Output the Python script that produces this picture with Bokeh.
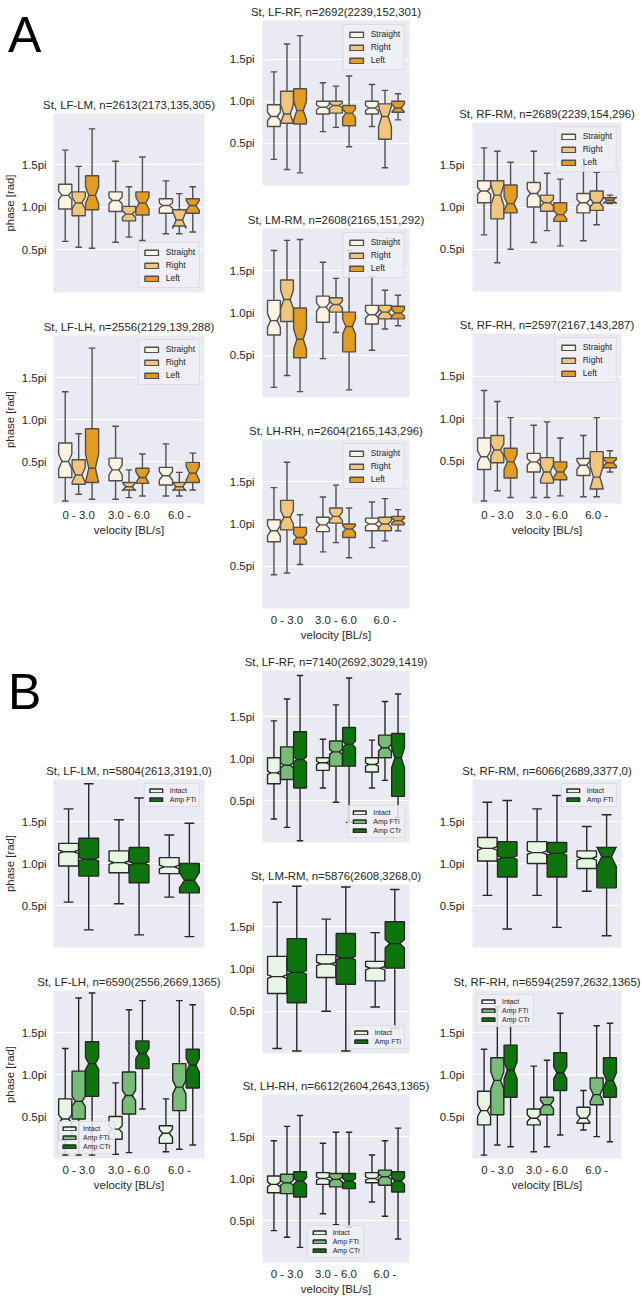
from bokeh.plotting import figure
from bokeh.models import (ColumnDataSource, FixedTicker, Legend, LegendItem, Div,
                          Spacer, Range1d)
from bokeh.layouts import column, row
from bokeh.embed import file_html
from bokeh.resources import INLINE

FONT = "Liberation Sans"
TXT = "#262626"
GROUPS = ["0 - 3.0", "3.0 - 6.0", "6.0 -"]
YTICKS = [0.5, 1.0, 1.5]
YTICK_LABELS = ["0.5pi", "1.0pi", "1.5pi"]

HUES_A = ["Straight", "Right", "Left"]
HUES_B3 = ["Intact", "Amp FTi", "Amp CTr"]
HUES_B2 = ["Intact", "Amp FTi"]
COLORS_A = ["#FCF3E2", "#F2C57C", "#E39B22"]
COLORS_B3 = ["#E6F6E3", "#77BC77", "#0E740E"]
COLORS_B2 = ["#E6F6E3", "#0E740E"]
EDGE_A = "#505050"
EDGE_B = "#272727"

# one row per box (group-major, hue-minor), values in units of pi:
# (whisker_low, q1, median, q3, whisker_high, notch_half_height)
A_LF_LM = [(0.60, 0.98, 1.14, 1.27, 1.67, 0.05), (0.53, 0.90, 1.05, 1.18, 1.48, 0.07), (0.52, 0.97, 1.14, 1.37, 1.92, 0.10),
           (0.59, 0.95, 1.08, 1.18, 1.54, 0.04), (0.65, 0.84, 0.92, 1.01, 1.24, 0.04), (0.61, 0.91, 1.05, 1.18, 1.59, 0.07),
           (0.69, 0.93, 1.02, 1.10, 1.31, 0.03), (0.69, 0.78, 0.85, 0.97, 1.16, 0.10), (0.71, 0.93, 1.02, 1.10, 1.24, 0.06)]
A_LF_RF = [(0.31, 0.70, 0.82, 0.96, 1.35, 0.05), (0.19, 0.74, 0.85, 1.12, 1.68, 0.11), (0.15, 0.73, 0.89, 1.15, 1.78, 0.11),
           (0.64, 0.85, 0.93, 1.00, 1.22, 0.03), (0.69, 0.86, 0.95, 1.00, 1.18, 0.03), (0.46, 0.71, 0.86, 0.95, 1.30, 0.05),
           (0.70, 0.85, 0.92, 1.00, 1.20, 0.03), (0.21, 0.55, 0.82, 0.97, 1.13, 0.12), (0.78, 0.87, 0.92, 1.00, 1.09, 0.05)]
A_RF_RM = [(0.67, 1.05, 1.19, 1.31, 1.70, 0.04), (0.34, 0.86, 1.14, 1.31, 1.66, 0.12), (0.50, 0.93, 1.04, 1.26, 1.53, 0.08),
           (0.58, 1.00, 1.16, 1.29, 1.66, 0.05), (0.72, 0.95, 1.05, 1.14, 1.40, 0.04), (0.54, 0.83, 0.91, 1.05, 1.33, 0.05),
           (0.60, 0.93, 1.05, 1.16, 1.48, 0.04), (0.79, 0.96, 1.05, 1.19, 1.41, 0.05), (1.04, 1.05, 1.08, 1.11, 1.14, 0.04)]
A_LF_LH = [(0.03, 0.31, 0.50, 0.72, 1.33, 0.09), (0.11, 0.23, 0.34, 0.52, 0.83, 0.09), (0.05, 0.25, 0.42, 0.89, 1.85, 0.17),
           (0.05, 0.27, 0.40, 0.54, 0.92, 0.06), (0.07, 0.16, 0.20, 0.25, 0.40, 0.05), (0.09, 0.24, 0.31, 0.42, 0.59, 0.07),
           (0.09, 0.22, 0.33, 0.43, 0.71, 0.05), (0.09, 0.16, 0.20, 0.25, 0.37, 0.05), (0.16, 0.25, 0.36, 0.49, 0.60, 0.08)]
A_LM_RM = [(0.12, 0.74, 0.91, 1.15, 1.74, 0.08), (0.26, 0.90, 1.16, 1.39, 1.86, 0.11), (0.07, 0.47, 0.69, 1.06, 1.87, 0.12),
           (0.46, 0.89, 1.07, 1.20, 1.60, 0.05), (0.77, 1.01, 1.10, 1.18, 1.41, 0.04), (0.09, 0.54, 0.84, 1.01, 1.74, 0.09),
           (0.56, 0.87, 0.98, 1.09, 1.43, 0.04), (0.81, 0.93, 1.01, 1.09, 1.27, 0.04), (0.85, 0.93, 1.00, 1.08, 1.21, 0.04)]
A_LH_RH = [(0.40, 0.79, 0.92, 1.05, 1.43, 0.06), (0.42, 0.93, 1.08, 1.28, 1.73, 0.08), (0.52, 0.76, 0.84, 0.96, 1.11, 0.04),
           (0.67, 0.91, 0.99, 1.08, 1.32, 0.04), (0.78, 1.01, 1.09, 1.19, 1.46, 0.05), (0.60, 0.84, 0.94, 1.00, 1.19, 0.04),
           (0.72, 0.92, 1.00, 1.07, 1.26, 0.03), (0.80, 0.92, 1.00, 1.08, 1.30, 0.04), (0.92, 0.99, 1.04, 1.09, 1.17, 0.03)]
A_RF_RH = [(0.03, 0.40, 0.55, 0.77, 1.33, 0.07), (0.15, 0.48, 0.63, 0.80, 1.20, 0.07), (0.07, 0.30, 0.49, 0.65, 1.01, 0.09),
           (0.07, 0.37, 0.49, 0.59, 0.92, 0.04), (0.07, 0.24, 0.37, 0.54, 0.96, 0.09), (0.09, 0.28, 0.37, 0.49, 0.77, 0.06),
           (0.08, 0.33, 0.45, 0.53, 0.80, 0.05), (0.08, 0.17, 0.31, 0.61, 1.01, 0.13), (0.37, 0.42, 0.48, 0.54, 0.62, 0.04)]

B_LF_LM = [(0.54, 0.97, 1.14, 1.24, 1.65, 0.02), (0.21, 0.85, 1.05, 1.30, 1.95, 0.02),
           (0.52, 0.89, 1.01, 1.15, 1.52, 0.02), (0.15, 0.77, 1.00, 1.19, 1.78, 0.02),
           (0.60, 0.88, 0.96, 1.07, 1.34, 0.02), (0.13, 0.65, 0.80, 1.00, 1.48, 0.09)]
B_LF_RF = [(0.28, 0.70, 0.83, 1.01, 1.45, 0.02), (0.18, 0.75, 0.92, 1.14, 1.71, 0.03), (0.02, 0.65, 0.99, 1.32, 1.99, 0.03),
           (0.65, 0.86, 0.95, 1.01, 1.23, 0.02), (0.48, 0.91, 1.08, 1.21, 1.64, 0.03), (0.24, 0.91, 1.17, 1.37, 1.96, 0.04),
           (0.65, 0.84, 0.93, 1.01, 1.22, 0.02), (0.74, 1.01, 1.13, 1.28, 1.68, 0.04), (0.30, 0.55, 1.01, 1.30, 1.77, 0.12)]
B_RF_RM = [(0.62, 1.03, 1.18, 1.31, 1.73, 0.02), (0.22, 0.84, 1.07, 1.26, 1.75, 0.02),
           (0.62, 1.00, 1.13, 1.26, 1.65, 0.02), (0.24, 0.84, 1.12, 1.25, 1.81, 0.02),
           (0.67, 0.94, 1.06, 1.15, 1.44, 0.02), (0.14, 0.71, 1.08, 1.19, 1.58, 0.12)]
B_LF_LH = [(0.04, 0.22, 0.47, 0.71, 1.31, 0.05), (0.04, 0.47, 0.68, 1.04, 1.91, 0.06), (0.04, 0.74, 1.13, 1.39, 1.97, 0.07),
           (0.05, 0.23, 0.35, 0.50, 0.90, 0.04), (0.07, 0.53, 0.75, 1.03, 1.77, 0.06), (0.59, 1.07, 1.25, 1.40, 1.88, 0.06),
           (0.08, 0.18, 0.30, 0.39, 0.71, 0.05), (0.11, 0.57, 0.85, 1.13, 1.88, 0.08), (0.16, 0.84, 1.11, 1.30, 1.83, 0.08)]
B_LM_RM = [(0.06, 0.71, 0.91, 1.15, 1.79, 0.02), (0.03, 0.60, 0.96, 1.36, 1.98, 0.02),
           (0.50, 0.90, 1.06, 1.17, 1.59, 0.02), (0.03, 0.82, 1.13, 1.42, 1.97, 0.02),
           (0.55, 0.86, 1.01, 1.09, 1.43, 0.02), (0.30, 1.01, 1.30, 1.56, 1.94, 0.05)]
B_RF_RH = [(0.04, 0.40, 0.57, 0.80, 1.30, 0.07), (0.16, 0.52, 0.93, 1.20, 1.81, 0.10), (0.14, 0.73, 1.05, 1.35, 1.87, 0.10),
           (0.08, 0.40, 0.48, 0.59, 1.10, 0.04), (0.14, 0.52, 0.64, 0.73, 1.17, 0.05), (0.28, 0.81, 1.02, 1.26, 1.73, 0.07),
           (0.34, 0.42, 0.48, 0.61, 0.81, 0.05), (0.26, 0.64, 0.76, 0.96, 1.58, 0.08), (0.20, 0.73, 0.93, 1.20, 1.61, 0.09)]
B_LH_RH = [(0.38, 0.83, 0.93, 1.03, 1.45, 0.03), (0.30, 0.82, 0.95, 1.05, 1.62, 0.03), (0.18, 0.78, 0.97, 1.08, 1.75, 0.04),
           (0.58, 0.93, 1.00, 1.07, 1.42, 0.02), (0.45, 0.90, 0.99, 1.06, 1.55, 0.03), (0.42, 0.88, 0.97, 1.06, 1.55, 0.03),
           (0.72, 0.95, 1.00, 1.07, 1.28, 0.02), (0.55, 0.92, 1.02, 1.10, 1.45, 0.03), (0.28, 0.84, 0.97, 1.08, 1.60, 0.04)]


def panel(title, rows, hues, colors, edge, geo, ytop, xaxis=False, ylabel=False,
          legend_loc="top_right", small_legend=False):
    bl, fw, br, bt, fh, bb = geo
    p = figure(width=bl + fw + br, height=bt + fh + bb,
               x_range=Range1d(-0.5, 2.5), y_range=Range1d(0, ytop),
               output_backend="svg", toolbar_location=None,
               min_border_left=bl, min_border_right=br,
               min_border_top=bt, min_border_bottom=bb, title=title)
    p.title.text_font = FONT
    p.title.text_font_size = "11.4px"
    p.title.text_font_style = "normal"
    p.title.text_color = TXT
    p.title.align = "center"
    p.title.standoff = 5
    p.background_fill_color = "#EAEAF2"
    p.border_fill_color = "white"
    p.outline_line_color = None
    p.xgrid.visible = False
    p.ygrid.grid_line_color = "white"
    p.ygrid.grid_line_width = 1.2

    for ax in p.axis:
        ax.axis_line_color = None
        ax.major_tick_line_color = None
        ax.minor_tick_line_color = None
        ax.major_tick_out = 0
        ax.major_tick_in = 0
        ax.minor_tick_out = 0
        ax.minor_tick_in = 0
        ax.major_label_text_font = FONT
        ax.major_label_text_font_size = "11.4px"
        ax.major_label_text_color = TXT
        ax.axis_label_text_font = FONT
        ax.axis_label_text_font_size = "11.4px"
        ax.axis_label_text_font_style = "normal"
        ax.axis_label_text_color = TXT
    p.yaxis.ticker = FixedTicker(ticks=YTICKS)
    p.yaxis.major_label_overrides = dict(zip(YTICKS, YTICK_LABELS))
    p.yaxis.major_label_standoff = 7 if ylabel else 8
    p.yaxis.axis_label_standoff = 3
    p.xaxis.ticker = FixedTicker(ticks=[0, 1, 2])
    p.xaxis.major_label_overrides = dict(zip([0, 1, 2], GROUPS))
    p.xaxis.major_label_standoff = 5
    p.xaxis.axis_label_standoff = 0
    if xaxis:
        p.xaxis.axis_label = "velocity [BL/s]"
    else:
        p.xaxis.visible = False
    if ylabel:
        p.yaxis.axis_label = "phase [rad]"

    nh = len(hues)
    w = 0.8 / nh
    bw = w * 0.98
    polys = [dict(xs=[], ys=[]) for _ in range(nh)]
    seg = dict(x0=[], y0=[], x1=[], y1=[])
    for i, (wlo, q1, md, q3, whi, notch) in enumerate(rows):
        g, h = divmod(i, nh)
        c = g - 0.4 + w * (h + 0.5)
        L, R = c - bw / 2, c + bw / 2
        cl, cr = c - bw / 4, c + bw / 4
        polys[h]["xs"].append([L, R, R, cr, R, R, L, L, cl, L, L])
        polys[h]["ys"].append([q1, q1, md - notch, md, md + notch, q3, q3,
                               md + notch, md, md - notch, q1])
        for (a0, b0, a1, b1) in [(c, q1, c, wlo), (c, q3, c, whi),
                                 (cl, wlo, cr, wlo), (cl, whi, cr, whi),
                                 (cl, md, cr, md)]:
            seg["x0"].append(a0); seg["y0"].append(b0)
            seg["x1"].append(a1); seg["y1"].append(b1)

    items = []
    for h in range(nh):
        r = p.patches("xs", "ys", source=ColumnDataSource(polys[h]),
                      fill_color=colors[h], line_color=edge, line_width=1.4)
        items.append(LegendItem(label=hues[h], renderers=[r]))
    p.segment("x0", "y0", "x1", "y1", source=ColumnDataSource(seg),
              line_color=edge, line_width=1.4)

    if small_legend:
        lg = Legend(items=items, location=legend_loc, label_text_font_size="7px",
                    glyph_width=16, glyph_height=5, label_height=6, spacing=2,
                    padding=3, margin=4, label_standoff=6)
    else:
        lg = Legend(items=items, location=legend_loc, label_text_font_size="8.5px",
                    glyph_width=17, glyph_height=7, label_height=8, spacing=3,
                    padding=4, margin=4, label_standoff=6)
    lg.label_text_font = FONT
    lg.label_text_color = TXT
    lg.background_fill_color = "#EEEEF4"
    lg.background_fill_alpha = 0.85
    lg.border_line_color = "#CCCCCC"
    lg.border_line_width = 1
    p.add_layout(lg)
    return p


def gap(h, w=200):
    return Spacer(width=w, height=h, margin=(0, 0, 0, 0))


def letter(ch):
    d = Div(text=ch, width=120, height=50, margin=(0, 0, 0, 0),
            styles={"font-family": FONT, "font-size": "50px",
                    "line-height": "50px", "color": "black"})
    return row(gap(50, 8), d, spacing=0)


# geometry: (border_left, frame_w, border_right, border_top, frame_h, border_bottom)
G1A = (49, 155, 22)
G2A = (34, 156, 14)
G2B = (34, 149, 21)
G3A = (42, 155, 15)
G3B = (42, 149, 21)

col1 = column(
    gap(10),
    letter("A"),
    gap(33),
    panel("St, LF-LM, n=2613(2173,135,305)", A_LF_LM, HUES_A, COLORS_A, EDGE_A,
          G1A + (20, 179, 23), 2.1, ylabel=True, legend_loc="bottom_right"),
    panel("St, LF-LH, n=2556(2129,139,288)", A_LF_LH, HUES_A, COLORS_A, EDGE_A,
          G1A + (20, 168, 40), 2.0, xaxis=True, ylabel=True),
    gap(124),
    letter("B"),
    gap(42),
    panel("St, LF-LM, n=5804(2613,3191,0)", B_LF_LM, HUES_B2, COLORS_B2, EDGE_B,
          G1A + (20, 168, 23), 2.0, ylabel=True, small_legend=True),
    panel("St, LF-LH, n=6590(2556,2669,1365)", B_LF_LH, HUES_B3, COLORS_B3, EDGE_B,
          G1A + (20, 168, 40), 2.0, xaxis=True, ylabel=True,
          legend_loc="bottom_left", small_legend=True),
    spacing=0)

col2 = column(
    panel("St, LF-RF, n=2692(2239,152,301)", A_LF_RF, HUES_A, COLORS_A, EDGE_A,
          G2A + (20, 165, 23), 1.96),
    panel("St, LM-RM, n=2608(2165,151,292)", A_LM_RM, HUES_A, COLORS_A, EDGE_A,
          G2A + (20, 169, 22), 2.0),
    panel("St, LH-RH, n=2604(2165,143,296)", A_LH_RH, HUES_A, COLORS_A, EDGE_A,
          G2A + (20, 169, 42), 2.0, xaxis=True),
    panel("St, LF-RF, n=7140(2692,3029,1419)", B_LF_RF, HUES_B3, COLORS_B3, EDGE_B,
          G2B + (20, 172, 22), 2.05, legend_loc="bottom_right", small_legend=True),
    panel("St, LM-RM, n=5876(2608,3268,0)", B_LM_RM, HUES_B2, COLORS_B2, EDGE_B,
          G2B + (20, 169, 21), 2.0, legend_loc="bottom_right", small_legend=True),
    panel("St, LH-RH, n=6612(2604,2643,1365)", B_LH_RH, HUES_B3, COLORS_B3, EDGE_B,
          G2B + (20, 168, 36), 2.0, xaxis=True,
          legend_loc="bottom_center", small_legend=True),
    spacing=0)

col3 = column(
    gap(102),
    panel("St, RF-RM, n=2689(2239,154,296)", A_RF_RM, HUES_A, COLORS_A, EDGE_A,
          G3A + (20, 169, 22), 2.0),
    panel("St, RF-RH, n=2597(2167,143,287)", A_RF_RH, HUES_A, COLORS_A, EDGE_A,
          G3A + (20, 170, 40), 2.0, xaxis=True),
    gap(216),
    panel("St, RF-RM, n=6066(2689,3377,0)", B_RF_RM, HUES_B2, COLORS_B2, EDGE_B,
          G3B + (20, 168, 23), 2.0, small_legend=True),
    panel("St, RF-RH, n=6594(2597,2632,1365)", B_RF_RH, HUES_B3, COLORS_B3, EDGE_B,
          G3B + (20, 168, 40), 2.0, xaxis=True,
          legend_loc="top_left", small_legend=True),
    spacing=0)

layout = row(col1, col2, col3, spacing=0)
open("out.html", "w").write(file_html(layout, INLINE))
